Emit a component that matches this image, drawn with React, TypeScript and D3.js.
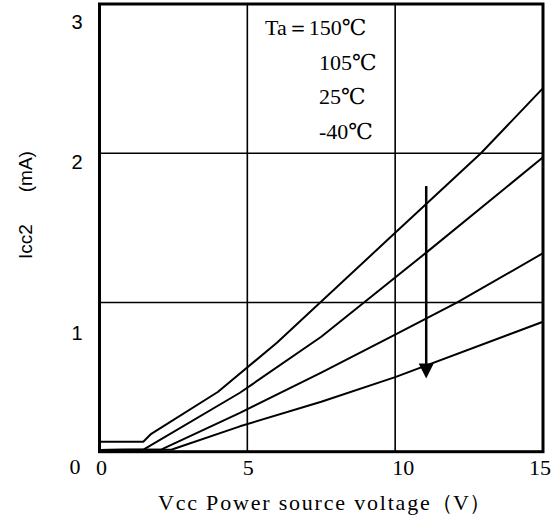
import React from "react";
import * as d3 from "d3";

// Supply current Icc2 versus Vcc supply voltage at four ambient temperatures
const voltage150 = [0, 1.48, 1.75, 4.0, 6.0, 9.8, 12.9, 15];
const icc150 = [0.067, 0.067, 0.12, 0.4, 0.73, 1.43, 2.0, 2.436];

const voltage105 = [0, 1.5, 4.75, 7.5, 11.05, 15];
const icc105 = [0.012, 0.015, 0.395, 0.77, 1.334, 1.973];

const voltage25 = [0, 2.1, 4.75, 7.5, 10.0, 12.1, 15];
const icc25 = [0.012, 0.015, 0.26, 0.53, 0.785, 1.0, 1.33];

const voltageM40 = [0, 2.45, 4.75, 7.5, 10.0, 15];
const iccM40 = [0.012, 0.015, 0.17, 0.335, 0.5, 0.871];

const tempLabels = ["150℃", "105℃", "25℃", "-40℃"];
const legendPrefix = "Ta＝";

const xTicks = [0, 5, 10, 15];
const yTicks = [0, 1, 2, 3];
const xGrid = [5, 10];
const yGrid = [1, 2];

// Arrow showing the direction of decreasing temperature
const arrowVolt = 11.05;
const arrowFrom = 1.78;
const arrowTo = 0.49;

const series = [
  { v: voltage150, i: icc150 },
  { v: voltage105, i: icc105 },
  { v: voltage25, i: icc25 },
  { v: voltageM40, i: iccM40 },
];

const W = 552;
const H = 522;
const left = 99.5;
const right = 543;
const top = 4;
const bottom = 451.7;

const serif = "'Liberation Serif', 'DejaVu Serif', 'Times New Roman', serif";
const sans = "'Liberation Sans', Arial, sans-serif";

export default function App() {
  const x = d3.scaleLinear().domain([0, 15]).range([left, right]);
  const y = d3.scaleLinear().domain([0, 3]).range([bottom, top]);

  const line = d3
    .line<[number, number]>()
    .x((d) => x(d[0]))
    .y((d) => y(d[1]))
    .curve(d3.curveLinear);

  // hand-set label nudges of the printed sheet
  const yLabelDy: Record<number, number> = { 0: 15, 1: 31, 2: 9, 3: 18 };
  const xLabelDx: Record<number, number> = { 0: 2, 5: 1, 10: 8, 15: -3 };

  const ax = x(arrowVolt);
  const aTop = y(arrowFrom);
  const aTip = y(arrowTo);
  const headLen = 15;
  const headHalf = 7.5;

  return (
    <div style={{ position: "fixed", left: 0, top: 0 }}>
      <svg width={W} height={H} style={{ display: "block", background: "#fff" }}>
        <rect width={W} height={H} fill="#fff" />

        {/* grid */}
        {xGrid.map((g) => (
          <line key={"xg" + g} x1={x(g)} x2={x(g)} y1={top} y2={bottom} stroke="#000" strokeWidth={1.6} />
        ))}
        {yGrid.map((g) => (
          <line key={"yg" + g} x1={left} x2={right} y1={y(g)} y2={y(g)} stroke="#000" strokeWidth={1.6} />
        ))}

        {/* curves */}
        {series.map((s, k) => (
          <path
            key={"s" + k}
            d={line(s.v.map((v, j) => [v, s.i[j]] as [number, number])) || ""}
            fill="none"
            stroke="#000"
            strokeWidth={2}
            strokeLinejoin="round"
          />
        ))}

        {/* arrow */}
        <line x1={ax} x2={ax} y1={aTop} y2={aTip - headLen + 1} stroke="#000" strokeWidth={2.5} />
        <path
          d={`M${ax - headHalf},${aTip - headLen} L${ax + headHalf},${aTip - headLen} L${ax},${aTip} Z`}
          fill="#000"
        />

        {/* frame */}
        <rect
          x={left}
          y={top}
          width={right - left}
          height={bottom - top}
          fill="none"
          stroke="#000"
          strokeWidth={3}
        />

        {/* legend */}
        <g fontFamily={serif} fontSize={22} fill="#000">
          <text x={265} y={35}>
            {legendPrefix + tempLabels[0]}
          </text>
          {tempLabels.slice(1).map((t, k) => (
            <text key={t} x={319} y={35 + 34.5 * (k + 1)}>
              {t}
            </text>
          ))}
        </g>

        {/* y tick labels */}
        {yTicks.map((t) => (
          <text
            key={"yt" + t}
            x={t === 0 ? 75 : 77}
            y={y(t) + yLabelDy[t]}
            textAnchor="middle"
            dominantBaseline="central"
            fontFamily={t === 0 ? serif : sans}
            fontSize={t === 0 ? 22 : 20}
          >
            {t}
          </text>
        ))}

        {/* x tick labels */}
        {xTicks.map((t) => (
          <text
            key={"xt" + t}
            x={x(t) + xLabelDx[t]}
            y={467}
            textAnchor="middle"
            dominantBaseline="central"
            fontFamily={serif}
            fontSize={22}
          >
            {t}
          </text>
        ))}

        {/* axis titles */}
        <text y={502} dominantBaseline="central" fontFamily={serif} fontSize={22}>
          <tspan x={158} letterSpacing={1.8}>
            Vcc Power source voltage
          </tspan>
          <tspan x={431}>（V）</tspan>
        </text>
        <g fontFamily={sans} fontSize={19}>
          <text transform="translate(32,241.7) rotate(-90)" textAnchor="middle">
            Icc2
          </text>
          <text transform="translate(32,171.7) rotate(-90)" textAnchor="middle">
            (mA)
          </text>
        </g>
      </svg>
    </div>
  );
}
